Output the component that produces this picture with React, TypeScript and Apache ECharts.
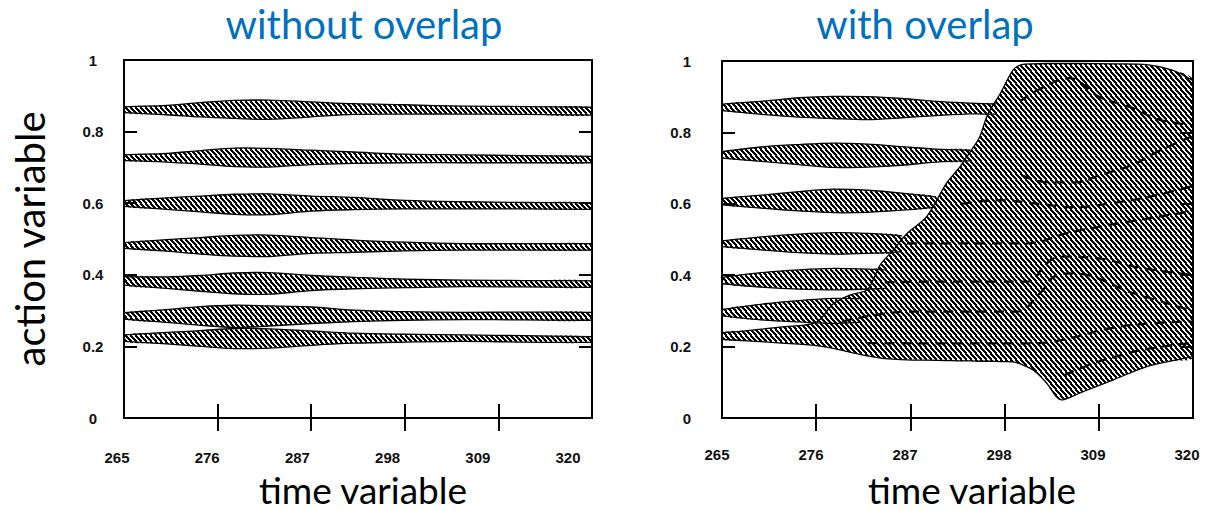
import React, { useEffect, useRef } from 'react';
import * as echarts from 'echarts';

// ---------- axes ----------
const X_LABELS = [265, 276, 287, 298, 309, 320];
const X_TICKS = [276, 287, 298, 309];
const Y_TICKS = [0.2, 0.4, 0.6, 0.8];

// ---------- left panel: "without overlap" ----------
const TIME_LEFT = [265, 270, 274, 278, 282, 287, 292, 298, 305, 312, 320];
const L1_MID = [0.861, 0.86, 0.861, 0.862, 0.861, 0.862, 0.863, 0.862, 0.86, 0.859, 0.857];
const L1_HALF = [0.008, 0.013, 0.02, 0.025, 0.027, 0.021, 0.015, 0.013, 0.011, 0.011, 0.011];
const L2_MID = [0.727, 0.727, 0.728, 0.728, 0.727, 0.728, 0.727, 0.725, 0.724, 0.723, 0.722];
const L2_HALF = [0.008, 0.012, 0.019, 0.026, 0.026, 0.02, 0.016, 0.012, 0.011, 0.01, 0.009];
const L3_MID = [0.599, 0.599, 0.598, 0.597, 0.597, 0.599, 0.599, 0.596, 0.594, 0.593, 0.592];
const L3_HALF = [0.008, 0.016, 0.022, 0.028, 0.029, 0.021, 0.017, 0.012, 0.01, 0.009, 0.009];
const L4_MID = [0.482, 0.482, 0.481, 0.481, 0.481, 0.482, 0.48, 0.479, 0.478, 0.478, 0.478];
const L4_HALF = [0.008, 0.016, 0.023, 0.029, 0.03, 0.022, 0.017, 0.012, 0.009, 0.009, 0.009];
const L5_MID = [0.383, 0.378, 0.376, 0.376, 0.376, 0.377, 0.377, 0.376, 0.376, 0.375, 0.374];
const L5_HALF = [0.012, 0.016, 0.022, 0.029, 0.03, 0.021, 0.016, 0.012, 0.009, 0.009, 0.009];
const L6_MID = [0.285, 0.285, 0.285, 0.284, 0.285, 0.287, 0.285, 0.285, 0.285, 0.285, 0.284];
const L6_HALF = [0.009, 0.018, 0.026, 0.031, 0.028, 0.023, 0.016, 0.012, 0.01, 0.011, 0.011];
const L7_MID = [0.223, 0.223, 0.222, 0.222, 0.222, 0.223, 0.223, 0.223, 0.223, 0.221, 0.219];
const L7_HALF = [0.009, 0.016, 0.022, 0.028, 0.027, 0.02, 0.014, 0.011, 0.009, 0.009, 0.008];

// ---------- right panel: "with overlap" ----------
const R1_TIME = [265, 270, 274, 278, 282, 286, 290, 294, 297];
const R1_MID = [0.87, 0.869, 0.87, 0.87, 0.868, 0.868, 0.867, 0.867, 0.865];
const R1_HALF = [0.009, 0.019, 0.027, 0.031, 0.032, 0.027, 0.02, 0.015, 0.014];
const R2_TIME = [265, 270, 274, 278, 282, 286, 290, 294];
const R2_MID = [0.737, 0.739, 0.738, 0.736, 0.735, 0.734, 0.735, 0.735];
const R2_HALF = [0.009, 0.021, 0.028, 0.034, 0.032, 0.026, 0.018, 0.015];
const R3_TIME = [265, 270, 274, 278, 282, 286, 290];
const R3_MID = [0.606, 0.606, 0.607, 0.608, 0.607, 0.606, 0.605];
const R3_HALF = [0.009, 0.019, 0.027, 0.033, 0.031, 0.024, 0.014];
const R4_TIME = [265, 270, 274, 278, 282, 286];
const R4_MID = [0.488, 0.489, 0.489, 0.489, 0.489, 0.488];
const R4_HALF = [0.008, 0.019, 0.026, 0.03, 0.028, 0.022];
const R5_TIME = [265, 270, 274, 278, 282, 284];
const R5_MID = [0.385, 0.387, 0.388, 0.389, 0.389, 0.389];
const R5_HALF = [0.009, 0.021, 0.027, 0.03, 0.028, 0.026];
const R6_TIME = [265, 270, 274, 278, 281];
const R6_MID = [0.295, 0.297, 0.299, 0.3, 0.301];
const R6_HALF = [0.009, 0.023, 0.03, 0.035, 0.033];

// merged (overlapping) region
const BLOB_TIME = [265, 268, 272, 276, 278, 280, 282, 283.5, 285, 286.6, 288.9, 291.2, 292.8, 294, 295.1, 296, 297.5, 299, 300, 301.3, 302.9, 304.1, 304.8, 306.8, 310.7, 314.6, 317.5, 320];
const BLOB_HIGH = [0.239, 0.245, 0.255, 0.268, 0.32, 0.345, 0.36, 0.43, 0.47, 0.517, 0.564, 0.657, 0.704, 0.746, 0.788, 0.849, 0.909, 0.975, 0.99, 0.992, 0.993, 0.993, 0.993, 0.993, 0.992, 0.99, 0.975, 0.945];
const BLOB_LOW = [0.22, 0.216, 0.21, 0.203, 0.195, 0.184, 0.174, 0.168, 0.165, 0.163, 0.162, 0.161, 0.16, 0.16, 0.159, 0.159, 0.158, 0.157, 0.15, 0.135, 0.098, 0.058, 0.051, 0.07, 0.107, 0.144, 0.16, 0.172];

// dashed trajectories inside the merged region
const D1_TIME = [299.8, 302, 305.6, 309, 313, 316, 320];
const D1_VAL = [0.887, 0.92, 0.952, 0.9, 0.868, 0.836, 0.82];
const D2_TIME = [300, 303, 306.4, 309.1, 313, 316.2, 320];
const D2_VAL = [0.68, 0.66, 0.66, 0.68, 0.71, 0.75, 0.79];
const D3_TIME = [293, 297, 302, 306, 310, 315, 320];
const D3_VAL = [0.6, 0.61, 0.6, 0.59, 0.6, 0.62, 0.65];
const D4_TIME = [286.6, 293, 300.6, 305.3, 310, 315, 320];
const D4_VAL = [0.489, 0.489, 0.489, 0.518, 0.54, 0.56, 0.58];
const D5_TIME = [284, 290, 300.7, 302.9, 304.5, 308, 314, 320];
const D5_VAL = [0.38, 0.382, 0.382, 0.433, 0.452, 0.45, 0.42, 0.4];
const D6_TIME = [279, 287, 299.4, 302.1, 304.1, 306, 313, 320];
const D6_VAL = [0.27, 0.298, 0.298, 0.349, 0.4, 0.405, 0.35, 0.3];
const D7_TIME = [282, 290, 301, 305, 310, 315, 320];
const D7_VAL = [0.21, 0.209, 0.209, 0.22, 0.25, 0.265, 0.27];
const D8_TIME = [305, 308, 311, 315, 320];
const D8_VAL = [0.12, 0.15, 0.172, 0.195, 0.21];

const LABEL_FONT = '"Liberation Sans", Arial, sans-serif';
const TEXT_FONT = 'Lato, "Open Sans", sans-serif';

type Band = { time: number[]; low: number[]; high: number[] };

function fromMid(time: number[], mid: number[], half: number[]): Band {
  return { time, low: mid.map((m, i) => m - half[i]), high: mid.map((m, i) => m + half[i]) };
}

// crisp pixel hatch "\\\\" (lines running from upper-left to lower-right)
function makeHatch(w: number, h: number, thick: number) {
  const c = document.createElement('canvas');
  c.width = w;
  c.height = h;
  const ctx = c.getContext('2d')!;
  const img = ctx.createImageData(w, h);
  for (let py = 0; py < h; py++) {
    for (let px = 0; px < w; px++) {
      let off = (px + 0.5 - ((py + 0.5) * w) / h) % w;
      if (off < 0) off += w;
      const k = (py * w + px) * 4;
      const on = off < thick;
      img.data[k] = 0;
      img.data[k + 1] = 0;
      img.data[k + 2] = 0;
      img.data[k + 3] = on ? 255 : 0;
    }
  }
  ctx.putImageData(img, 0, 0);
  return { image: c.toDataURL('image/png'), repeat: 'repeat', imageWidth: w, imageHeight: h } as any;
}

function bandsSeries(bands: Band[], xi: number, yi: number, hatch: any, smooth: number) {
  return {
    type: 'custom',
    xAxisIndex: xi,
    yAxisIndex: yi,
    clip: true,
    silent: true,
    z: 2,
    data: bands.map((_, i) => [290, 0.5, i]),
    renderItem: (params: any, api: any) => {
      const b = bands[api.value(2)];
      const up = b.time.map((t, i) => api.coord([t, b.high[i]]));
      const lo = b.time.map((t, i) => api.coord([t, b.low[i]]));
      return {
        type: 'group',
        children: [
          {
            type: 'polygon',
            shape: { points: up.concat(lo.slice().reverse()), smooth },
            style: { fill: hatch, stroke: null },
          },
          { type: 'polyline', shape: { points: up, smooth }, style: { fill: null, stroke: '#000', lineWidth: 1.3 } },
          { type: 'polyline', shape: { points: lo, smooth }, style: { fill: null, stroke: '#000', lineWidth: 1.3 } },
        ],
      };
    },
  };
}

function dashed(name: string, times: number[], vals: number[]) {
  return {
    type: 'line',
    name,
    xAxisIndex: 2,
    yAxisIndex: 2,
    symbol: 'none',
    smooth: 0.4,
    silent: true,
    z: 3,
    data: times.map((t, i) => [t, vals[i]]),
    lineStyle: { color: '#000', width: 2.3, type: [10, 7] },
    itemStyle: { color: '#000' },
  };
}

function mainX(grid: number, position: 'top' | 'bottom', len: number) {
  return {
    type: 'value',
    gridIndex: grid,
    position,
    min: 265,
    max: 320,
    axisLine: { show: false },
    splitLine: { show: false },
    axisLabel: { show: false },
    axisTick: { show: true, inside: true, length: len, customValues: X_TICKS, lineStyle: { color: '#000', width: 2 } },
  };
}

function mainY(grid: number, position: 'left' | 'right', labels: any) {
  return {
    type: 'value',
    gridIndex: grid,
    position,
    min: 0,
    max: 1,
    interval: 0.2,
    axisLine: { show: false },
    splitLine: { show: false },
    axisLabel: labels,
    axisTick: { show: true, inside: true, length: 13, customValues: Y_TICKS, lineStyle: { color: '#000', width: 2 } },
  };
}

function labelX(grid: number, margin: number) {
  return {
    type: 'value',
    gridIndex: grid,
    min: 265,
    max: 320,
    axisLine: { show: false },
    splitLine: { show: false },
    axisTick: { show: false },
    axisLabel: {
      show: true,
      customValues: X_LABELS,
      margin,
      color: '#111',
      fontSize: 15,
      fontWeight: 'bold',
      fontFamily: LABEL_FONT,
    },
  };
}

function hiddenY(grid: number) {
  return { type: 'value', gridIndex: grid, min: 0, max: 1, show: false };
}

export default function App() {
  const ref = useRef<HTMLDivElement>(null);

  useEffect(() => {
    if (!ref.current) return;
    const chart = echarts.init(ref.current, undefined, { renderer: 'svg' });
    const hatch = makeHatch(5, 6, 2.8);

    const leftBands: Band[] = [
      fromMid(TIME_LEFT, L1_MID, L1_HALF),
      fromMid(TIME_LEFT, L2_MID, L2_HALF),
      fromMid(TIME_LEFT, L3_MID, L3_HALF),
      fromMid(TIME_LEFT, L4_MID, L4_HALF),
      fromMid(TIME_LEFT, L5_MID, L5_HALF),
      fromMid(TIME_LEFT, L6_MID, L6_HALF),
      fromMid(TIME_LEFT, L7_MID, L7_HALF),
    ];
    const rightBands: Band[] = [
      { time: BLOB_TIME, low: BLOB_LOW, high: BLOB_HIGH },
      fromMid(R1_TIME, R1_MID, R1_HALF),
      fromMid(R2_TIME, R2_MID, R2_HALF),
      fromMid(R3_TIME, R3_MID, R3_HALF),
      fromMid(R4_TIME, R4_MID, R4_HALF),
      fromMid(R5_TIME, R5_MID, R5_HALF),
      fromMid(R6_TIME, R6_MID, R6_HALF),
    ];

    const series: any[] = [
      bandsSeries(leftBands, 0, 0, hatch, 0.35),
      bandsSeries(rightBands, 2, 2, hatch, 0.3),
      dashed('d1', D1_TIME, D1_VAL),
      dashed('d2', D2_TIME, D2_VAL),
      dashed('d3', D3_TIME, D3_VAL),
      dashed('d4', D4_TIME, D4_VAL),
      dashed('d5', D5_TIME, D5_VAL),
      dashed('d6', D6_TIME, D6_VAL),
      dashed('d7', D7_TIME, D7_VAL),
      dashed('d8', D8_TIME, D8_VAL),
    ];

    const yLabelBase = { show: true, color: '#111', fontSize: 15, fontWeight: 'bold', fontFamily: LABEL_FONT };

    chart.setOption({
      animation: false,
      backgroundColor: '#fff',
      grid: [
        { left: 124, top: 60, width: 468, height: 358, show: true, borderColor: '#000', borderWidth: 2, backgroundColor: 'transparent' },
        { left: 722, top: 61, width: 471, height: 357, show: true, borderColor: '#000', borderWidth: 2, backgroundColor: 'transparent' },
        { left: 117, top: 60, width: 451, height: 358, show: false },
        { left: 717, top: 61, width: 470, height: 357, show: false },
      ],
      xAxis: [
        mainX(0, 'bottom', 14),
        mainX(0, 'top', 13),
        mainX(1, 'bottom', 14),
        mainX(1, 'top', 13),
        labelX(2, 32),
        labelX(3, 29),
      ],
      yAxis: [
        mainY(0, 'left', { ...yLabelBase, align: 'center', margin: 31 }),
        mainY(0, 'right', { show: false }),
        mainY(1, 'left', { ...yLabelBase, align: 'right', margin: 31 }),
        mainY(1, 'right', { show: false }),
        hiddenY(2),
        hiddenY(3),
      ],
      series,
      graphic: [
        { type: 'text', x: 364, y: 24, style: { text: 'without overlap', fill: '#0070C0', font: `40px ${TEXT_FONT}`, align: 'center', verticalAlign: 'middle' } },
        { type: 'text', x: 925, y: 24, style: { text: 'with overlap', fill: '#0070C0', font: `40px ${TEXT_FONT}`, align: 'center', verticalAlign: 'middle' } },
        { type: 'text', x: 30, y: 239, rotation: Math.PI / 2, style: { text: 'action variable', fill: '#000', font: `40px ${TEXT_FONT}`, align: 'center', verticalAlign: 'middle' } },
        { type: 'text', x: 363, y: 489, style: { text: 'time variable', fill: '#000', font: `37px ${TEXT_FONT}`, align: 'center', verticalAlign: 'middle' } },
        { type: 'text', x: 972, y: 489, style: { text: 'time variable', fill: '#000', font: `37px ${TEXT_FONT}`, align: 'center', verticalAlign: 'middle' } },
      ],
    });

    return () => chart.dispose();
  }, []);

  return <div ref={ref} style={{ position: 'absolute', left: 0, top: 0, width: 1212, height: 511 }} />;
}
